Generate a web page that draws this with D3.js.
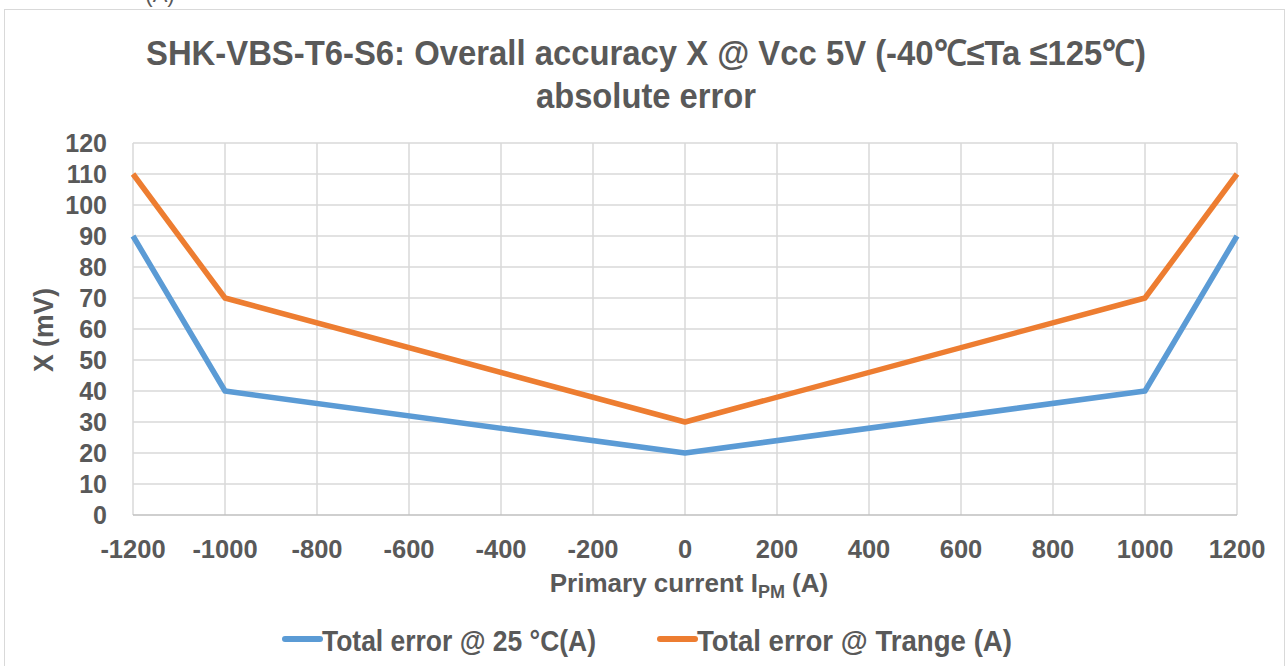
<!DOCTYPE html>
<html>
<head>
<meta charset="utf-8">
<script src="https://cdn.jsdelivr.net/npm/d3@7"></script>
<style>
  body { margin: 0; background: #fff; }
  text { font-family: "Liberation Sans", Arial, sans-serif; font-weight: bold; fill: #595959; }
</style>
</head>
<body>
<div id="container"></div>
<script>
let w = 1287;
let h = 666;

// data
let current = [-1200, -1000, 0, 1000, 1200];
let err25 = [90, 40, 20, 40, 90];
let errRange = [110, 70, 30, 70, 110];
let seriesNames = ["Total error @ 25 °C(A)", "Total error @ Trange (A)"];
let seriesColors = ["#5b9bd5", "#ed7d31"];
let xTicks = d3.range(-1200, 1201, 200);
let yTicks = d3.range(0, 121, 10);

let svg = d3.select("#container").append("svg")
    .attr("width", w)
    .attr("height", h);

// chart border (bottom runs off the picture)
svg.append("rect")
    .attr("x", 4.5).attr("y", 9.5)
    .attr("width", 1280).attr("height", 700)
    .attr("fill", "white")
    .attr("stroke", "#d9d9d9");

// clipped caption at the very top
svg.append("text")
    .attr("x", 160).attr("y", 2)
    .attr("text-anchor", "middle")
    .style("font-weight", "normal")
    .style("font-size", "22px")
    .text("(A)");

let x = d3.scaleLinear().domain([-1200, 1200]).range([133, 1237]);
let y = d3.scaleLinear().domain([0, 120]).range([515, 143]);

// gridlines
svg.append("g").selectAll("line").data(yTicks.filter(d => d > 0)).enter()
  .append("line")
    .attr("x1", x(-1200)).attr("x2", x(1200))
    .attr("y1", d => y(d)).attr("y2", d => y(d))
    .attr("stroke", "#d9d9d9").attr("stroke-width", 1.5);

svg.append("g").selectAll("line").data(xTicks).enter()
  .append("line")
    .attr("x1", d => x(d)).attr("x2", d => x(d))
    .attr("y1", y(0)).attr("y2", y(120))
    .attr("stroke", "#d9d9d9").attr("stroke-width", 1.5);

// axis line
svg.append("line")
    .attr("x1", x(-1200)).attr("x2", x(1200))
    .attr("y1", y(0)).attr("y2", y(0))
    .attr("stroke", "#bfbfbf").attr("stroke-width", 1.5);

// tick labels
svg.append("g").selectAll("text").data(yTicks).enter()
  .append("text")
    .attr("x", 107)
    .attr("y", d => y(d) + 9)
    .attr("text-anchor", "end")
    .style("font-size", "25px")
    .text(d => d);

svg.append("g").selectAll("text").data(xTicks).enter()
  .append("text")
    .attr("x", d => x(d))
    .attr("y", 558)
    .attr("text-anchor", "middle")
    .style("font-size", "25.5px")
    .text(d => d);

// titles
svg.append("text")
    .attr("x", 646).attr("y", 65)
    .attr("text-anchor", "middle")
    .attr("textLength", 1000)
    .attr("lengthAdjust", "spacingAndGlyphs")
    .style("font-size", "35px")
    .text("SHK-VBS-T6-S6: Overall accuracy X @ Vcc 5V (-40℃≤Ta ≤125℃)");
svg.append("text")
    .attr("x", 646).attr("y", 108)
    .attr("text-anchor", "middle")
    .attr("textLength", 220)
    .attr("lengthAdjust", "spacingAndGlyphs")
    .style("font-size", "35px")
    .text("absolute error");

let xt = svg.append("text")
    .attr("x", 689).attr("y", 592)
    .attr("text-anchor", "middle")
    .style("font-size", "26px");
xt.append("tspan").text("Primary current I");
xt.append("tspan").attr("dy", 6).style("font-size", "18px").text("PM");
xt.append("tspan").attr("dy", -6).text(" (A)");

svg.append("text")
    .attr("transform", "translate(53,330) rotate(-90)")
    .attr("text-anchor", "middle")
    .attr("textLength", 84)
    .attr("lengthAdjust", "spacingAndGlyphs")
    .style("font-size", "27px")
    .text("X (mV)");

// lines
let lineMaker = d3.line()
    .x((d, i) => x(current[i]))
    .y(d => y(d));

[err25, errRange].forEach((s, k) => {
  svg.append("path")
      .datum(s)
      .attr("d", lineMaker)
      .attr("fill", "none")
      .attr("stroke", seriesColors[k])
      .attr("stroke-width", 5.5)
      .attr("stroke-linejoin", "round");
});

// legend
let legendX = [282, 657];
let legendLen = [274, 315];
seriesNames.forEach((name, k) => {
  svg.append("line")
      .attr("x1", legendX[k] + 3).attr("x2", legendX[k] + 38)
      .attr("y1", 639).attr("y2", 639)
      .attr("stroke", seriesColors[k])
      .attr("stroke-width", 6)
      .attr("stroke-linecap", "round");
  svg.append("text")
      .attr("x", legendX[k] + 40).attr("y", 651)
      .attr("textLength", legendLen[k])
      .attr("lengthAdjust", "spacingAndGlyphs")
      .style("font-size", "29px")
      .text(name);
});
</script>
</body>
</html>
